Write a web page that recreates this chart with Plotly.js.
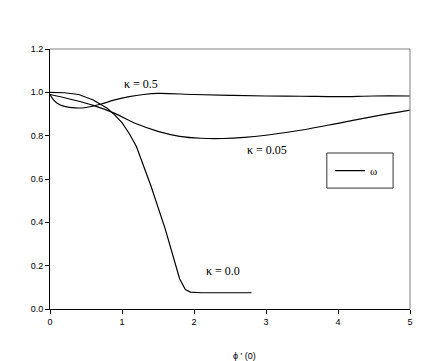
<!DOCTYPE html>
<html>
<head>
<meta charset="utf-8">
<script src="https://cdn.plot.ly/plotly-3.0.1.min.js"></script>
<style>
  html, body { margin: 0; padding: 0; background: #fff; }
  #chart { width: 436px; height: 361px; }
</style>
</head>
<body>
<div id="chart"></div>
<script>
// kappa = 0.0
const x_k00 = [0, 0.2, 0.4, 0.6, 0.8, 0.9, 1.0, 1.1, 1.2, 1.4, 1.6, 1.8, 1.88, 1.95, 2.1, 2.8];
const y_k00 = [1.0, 0.998, 0.99, 0.965, 0.925, 0.895, 0.86, 0.81, 0.75, 0.57, 0.37, 0.14, 0.09, 0.078, 0.075, 0.075];

// kappa = 0.05
const x_k005 = [0, 0.3, 0.6, 0.9, 1.2, 1.5, 1.8, 2.1, 2.4, 2.7, 3.0, 3.5, 4.0, 4.5, 5.0];
const y_k005 = [0.99, 0.967, 0.94, 0.903, 0.855, 0.82, 0.797, 0.788, 0.787, 0.792, 0.802, 0.826, 0.857, 0.889, 0.918];

// kappa = 0.5
const x_k05 = [0, 0.05, 0.1, 0.2, 0.35, 0.5, 0.7, 0.9, 1.1, 1.3, 1.5, 2.0, 2.5, 3.0, 3.5, 4.0, 4.5, 5.0];
const y_k05 = [0.99, 0.965, 0.95, 0.935, 0.928, 0.93, 0.945, 0.965, 0.98, 0.99, 0.995, 0.99, 0.986, 0.983, 0.982, 0.98, 0.983, 0.983];

const curve_labels = ["\u03ba = 0.0", "\u03ba = 0.05", "\u03ba = 0.5"];
const label_x = [2.4, 3.02, 1.26];
const label_y = [0.175, 0.734, 1.04];

const line_style = { color: "black", width: 1.2 };

const data = [
    { x: x_k00, y: y_k00, mode: "lines", name: "\u03c9", line: line_style, showlegend: true },
    { x: x_k005, y: y_k005, mode: "lines", line: Object.assign({ shape: "spline" }, line_style), showlegend: false },
    { x: x_k05, y: y_k05, mode: "lines", line: Object.assign({ shape: "spline" }, line_style), showlegend: false },
];

const annotations = curve_labels.map((t, i) => ({
    x: label_x[i], y: label_y[i], text: t, showarrow: false,
    font: { family: "Liberation Serif", size: 12, color: "black" },
}));

annotations.push({
    xref: "paper", yref: "paper", x: 0.54, y: -0.155, yanchor: "top",
    text: "\u03d5 ' (0)", showarrow: false,
    font: { family: "Liberation Sans", size: 9, color: "black" },
});

const layout = {
    width: 436,
    height: 361,
    margin: { l: 50, r: 26, t: 49, b: 52 },
    paper_bgcolor: "white",
    plot_bgcolor: "white",
    font: { family: "Liberation Sans", size: 9, color: "black" },
    xaxis: {
        range: [0, 5], dtick: 1, showgrid: false, zeroline: false,
        showline: true, linecolor: "black", linewidth: 1,
        ticks: "outside", ticklen: 4, tickcolor: "black",
    },
    yaxis: {
        range: [0, 1.2], dtick: 0.2, tickformat: ".1f", showgrid: false, zeroline: false,
        showline: true, linecolor: "black", linewidth: 1,
        ticks: "outside", ticklen: 4, tickcolor: "black",
    },
    shapes: [
        { type: "line", xref: "paper", yref: "paper", x0: 0, x1: 1, y0: 1, y1: 1, line: { color: "#808080", width: 1 } },
        { type: "line", xref: "paper", yref: "paper", x0: 1, x1: 1, y0: 0, y1: 1, line: { color: "#808080", width: 1 } },
        // legend frame
        { type: "rect", xref: "paper", yref: "paper", x0: 0.769, x1: 0.953, y0: 0.465, y1: 0.6, line: { color: "#333", width: 1 } },
    ],
    legend: {
        x: 0.778, y: 0.532, xanchor: "left", yanchor: "middle",
        bgcolor: "rgba(0,0,0,0)", borderwidth: 0,
        font: { family: "Liberation Serif", size: 11, color: "black" },
    },
    annotations: annotations,
};

Plotly.newPlot("chart", data, layout, { displayModeBar: false, staticPlot: true });
</script>
</body>
</html>
